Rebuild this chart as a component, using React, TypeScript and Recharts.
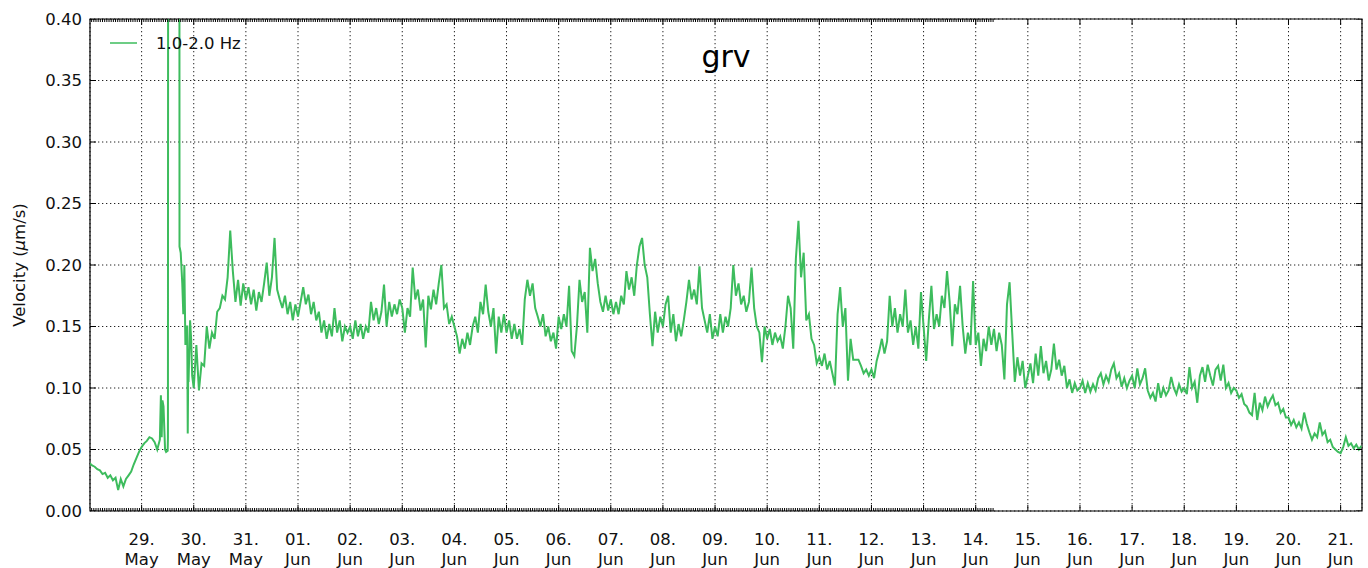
import React from 'react';
import { ComposedChart, Line, Scatter, XAxis, YAxis, CartesianGrid, ReferenceArea } from 'recharts';

// x = days since 28 May 00:00
const xDomain: [number, number] = [0.01, 24.41];
const yDomain: [number, number] = [0, 0.4];
const yTicks = [0, 0.05, 0.1, 0.15, 0.2, 0.25, 0.3, 0.35, 0.4];
const dayTicks = [1, 2, 3, 4, 5, 6, 7, 8, 9, 10, 11, 12, 13, 14, 15, 16, 17, 18, 19, 20, 21, 22, 23, 24];
const dayNumbers = ['29.', '30.', '31.', '01.', '02.', '03.', '04.', '05.', '06.', '07.', '08.', '09.', '10.', '11.', '12.', '13.', '14.', '15.', '16.', '17.', '18.', '19.', '20.', '21.'];
const monthNames = ['May', 'May', 'May', 'Jun', 'Jun', 'Jun', 'Jun', 'Jun', 'Jun', 'Jun', 'Jun', 'Jun', 'Jun', 'Jun', 'Jun', 'Jun', 'Jun', 'Jun', 'Jun', 'Jun', 'Jun', 'Jun', 'Jun', 'Jun'];
const seriesName = '1.0-2.0 Hz';
const stationName = 'grv';
const lineColor = '#3dbc5d';

// velocity samples every 0.05 day, one row per day (starting 28 May)
const sampleStep = 0.05;
const velocityByDay: number[][] = [
  /* 28 May */ [0.039, 0.037, 0.036, 0.034, 0.033, 0.030, 0.031, 0.027, 0.029, 0.025, 0.027, 0.017, 0.026, 0.020, 0.026, 0.029, 0.032, 0.038, 0.043, 0.048],
  /* 29 May */ [0.052, 0.055, 0.057, 0.060, 0.059, 0.056, 0.050, 0.058, 0.090, 0.050, 0.049, 0.9, 0.9, 0.9, 0.9, 0.210, 0.160, 0.150, 0.105, 0.140],
  /* 30 May */ [0.100, 0.135, 0.098, 0.120, 0.118, 0.150, 0.132, 0.145, 0.140, 0.162, 0.165, 0.175, 0.172, 0.190, 0.228, 0.195, 0.170, 0.188, 0.167, 0.185],
  /* 31 May */ [0.172, 0.182, 0.168, 0.180, 0.163, 0.178, 0.170, 0.185, 0.202, 0.175, 0.190, 0.222, 0.180, 0.172, 0.165, 0.175, 0.160, 0.170, 0.155, 0.168],
  /* 01 Jun */ [0.158, 0.170, 0.182, 0.168, 0.176, 0.160, 0.170, 0.155, 0.162, 0.145, 0.155, 0.140, 0.152, 0.142, 0.165, 0.145, 0.155, 0.138, 0.150, 0.145],
  /* 02 Jun */ [0.150, 0.140, 0.155, 0.142, 0.152, 0.140, 0.150, 0.145, 0.170, 0.155, 0.165, 0.152, 0.162, 0.184, 0.150, 0.170, 0.158, 0.168, 0.160, 0.172],
  /* 03 Jun */ [0.165, 0.145, 0.165, 0.158, 0.198, 0.172, 0.180, 0.163, 0.172, 0.133, 0.175, 0.164, 0.180, 0.168, 0.185, 0.200, 0.165, 0.168, 0.152, 0.158],
  /* 04 Jun */ [0.150, 0.142, 0.128, 0.140, 0.132, 0.145, 0.135, 0.150, 0.158, 0.145, 0.170, 0.160, 0.184, 0.162, 0.150, 0.165, 0.128, 0.158, 0.145, 0.160],
  /* 05 Jun */ [0.145, 0.155, 0.140, 0.152, 0.140, 0.148, 0.135, 0.172, 0.188, 0.175, 0.185, 0.165, 0.158, 0.150, 0.160, 0.142, 0.150, 0.138, 0.145, 0.132],
  /* 06 Jun */ [0.158, 0.148, 0.160, 0.150, 0.183, 0.130, 0.126, 0.150, 0.188, 0.170, 0.178, 0.145, 0.214, 0.195, 0.205, 0.185, 0.170, 0.162, 0.175, 0.163],
  /* 07 Jun */ [0.172, 0.160, 0.170, 0.160, 0.175, 0.168, 0.195, 0.180, 0.190, 0.175, 0.200, 0.215, 0.222, 0.200, 0.190, 0.160, 0.134, 0.162, 0.145, 0.158],
  /* 08 Jun */ [0.150, 0.168, 0.175, 0.145, 0.160, 0.138, 0.152, 0.142, 0.155, 0.170, 0.188, 0.172, 0.180, 0.168, 0.199, 0.165, 0.155, 0.145, 0.160, 0.140],
  /* 09 Jun */ [0.150, 0.142, 0.160, 0.145, 0.158, 0.150, 0.165, 0.200, 0.175, 0.185, 0.168, 0.175, 0.162, 0.170, 0.198, 0.165, 0.150, 0.145, 0.121, 0.150],
  /* 10 Jun */ [0.140, 0.148, 0.135, 0.145, 0.138, 0.142, 0.132, 0.150, 0.175, 0.165, 0.132, 0.205, 0.236, 0.190, 0.210, 0.155, 0.160, 0.140, 0.135, 0.120],
  /* 11 Jun */ [0.125, 0.118, 0.128, 0.115, 0.122, 0.112, 0.102, 0.160, 0.182, 0.150, 0.165, 0.106, 0.140, 0.123, 0.123, 0.123, 0.118, 0.112, 0.115, 0.110],
  /* 12 Jun */ [0.115, 0.108, 0.122, 0.130, 0.140, 0.128, 0.138, 0.175, 0.150, 0.165, 0.145, 0.160, 0.150, 0.180, 0.145, 0.155, 0.135, 0.150, 0.132, 0.178],
  /* 13 Jun */ [0.150, 0.122, 0.155, 0.183, 0.148, 0.160, 0.150, 0.175, 0.165, 0.195, 0.170, 0.134, 0.168, 0.160, 0.183, 0.150, 0.128, 0.145, 0.135, 0.187],
  /* 14 Jun */ [0.135, 0.145, 0.118, 0.140, 0.130, 0.150, 0.135, 0.148, 0.130, 0.145, 0.135, 0.107, 0.168, 0.186, 0.145, 0.105, 0.125, 0.110, 0.122, 0.100],
  /* 15 Jun */ [0.110, 0.120, 0.104, 0.128, 0.110, 0.134, 0.112, 0.122, 0.106, 0.115, 0.136, 0.115, 0.123, 0.110, 0.118, 0.100, 0.107, 0.096, 0.104, 0.098],
  /* 16 Jun */ [0.100, 0.106, 0.096, 0.104, 0.097, 0.103, 0.098, 0.108, 0.112, 0.103, 0.110, 0.105, 0.115, 0.120, 0.108, 0.112, 0.101, 0.108, 0.100, 0.106],
  /* 17 Jun */ [0.110, 0.100, 0.116, 0.103, 0.108, 0.116, 0.098, 0.092, 0.096, 0.089, 0.104, 0.092, 0.100, 0.094, 0.098, 0.109, 0.100, 0.095, 0.103, 0.097],
  /* 18 Jun */ [0.100, 0.095, 0.117, 0.100, 0.105, 0.088, 0.110, 0.117, 0.105, 0.119, 0.110, 0.102, 0.115, 0.118, 0.106, 0.119, 0.100, 0.104, 0.096, 0.100],
  /* 19 Jun */ [0.098, 0.092, 0.095, 0.087, 0.085, 0.080, 0.078, 0.096, 0.074, 0.088, 0.082, 0.093, 0.085, 0.090, 0.094, 0.086, 0.088, 0.080, 0.083, 0.076],
  /* 20 Jun */ [0.076, 0.070, 0.074, 0.068, 0.072, 0.067, 0.080, 0.071, 0.064, 0.058, 0.063, 0.060, 0.072, 0.062, 0.065, 0.056, 0.058, 0.052, 0.050, 0.048],
  /* 21 Jun */ [0.047, 0.052, 0.060, 0.053, 0.055, 0.051, 0.054, 0.050, 0.053],
];

// extra samples around the 29 May burst
const burstTimes = [1.37, 1.385, 1.42, 1.47, 1.505, 1.512, 1.722, 1.727, 1.78, 1.82, 1.84, 1.875, 1.885, 1.895, 1.93, 1.97];
const burstValues = [0.094, 0.060, 0.085, 0.048, 0.060, 0.9, 0.9, 0.215, 0.185, 0.200, 0.135, 0.150, 0.063, 0.120, 0.155, 0.110];

type Row = { t: number; v: number };
const rows: Row[] = [];
velocityByDay.forEach((vals, d) => {
  vals.forEach((v, k) => rows.push({ t: Math.round((d + k * sampleStep) * 1000) / 1000, v }));
});
burstTimes.forEach((t, i) => rows.push({ t, v: burstValues[i] }));
rows.sort((a, b) => a.t - b.t);

// tick-mark positions (matplotlib-style inward ticks on all four sides)
const minorTickTimes: number[] = [];
for (let h = 1; h <= 416; h++) minorTickTimes.push(h / 24);
const bottomMinor = minorTickTimes.map((t) => ({ t, y: yDomain[0] }));
const topMinor = minorTickTimes.map((t) => ({ t, y: yDomain[1] }));
const bottomMajor = dayTicks.map((t) => ({ t, y: yDomain[0] }));
const topMajor = dayTicks.map((t) => ({ t, y: yDomain[1] }));
const leftMajor = yTicks.map((y) => ({ t: xDomain[0], y }));
const rightMajor = yTicks.map((y) => ({ t: xDomain[1], y }));

const FONT = 'DejaVu Sans';
const textColor = '#111';

const tickMark = (dx: number, dy: number) => (p: any) => (
  <line x1={p.cx} y1={p.cy} x2={p.cx + dx} y2={p.cy + dy} stroke="#000" strokeWidth={1} />
);

const DayTick = (props: any) => {
  const { x, y, payload } = props;
  const i = dayTicks.indexOf(payload.value);
  return (
    <text x={x} y={y} textAnchor="middle" fontSize={16.5} fontFamily={FONT} fill={textColor}>
      <tspan x={x} y={y + 34}>{dayNumbers[i]}</tspan>
      <tspan x={x} y={y + 54}>{monthNames[i]}</tspan>
    </text>
  );
};

export default function App() {
  return (
    <div style={{ position: 'absolute', left: 0, top: 0, width: 1368, height: 568, background: '#fff' }}>
      <ComposedChart width={1368} height={568} data={rows} margin={{ top: 19, right: 6, bottom: 7, left: 0 }}>
        <CartesianGrid stroke="#222" strokeDasharray="1.3 2.7" strokeWidth={1} />
        <XAxis
          dataKey="t"
          type="number"
          domain={xDomain}
          allowDataOverflow
          ticks={dayTicks}
          interval={0}
          height={50}
          tickSize={0}
          tickMargin={0}
          tickLine={false}
          axisLine={false}
          tick={<DayTick />}
        />
        <YAxis
          type="number"
          domain={yDomain}
          allowDataOverflow
          ticks={yTicks}
          interval={0}
          width={90}
          tickSize={6}
          tickMargin={2}
          tickLine={false}
          axisLine={false}
          tickFormatter={(v: number) => v.toFixed(2)}
          tick={{ fontSize: 16.5, fontFamily: FONT, fill: textColor }}
        />
        <Line
          type="linear"
          dataKey="v"
          name={seriesName}
          stroke={lineColor}
          strokeWidth={2}
          dot={false}
          isAnimationActive={false}
        />
        <Scatter data={bottomMinor} dataKey="y" shape={tickMark(0, -3)} isAnimationActive={false} />
        <Scatter data={topMinor} dataKey="y" shape={tickMark(0, 3)} isAnimationActive={false} />
        <Scatter data={bottomMajor} dataKey="y" shape={tickMark(0, -6)} isAnimationActive={false} />
        <Scatter data={topMajor} dataKey="y" shape={tickMark(0, 6)} isAnimationActive={false} />
        <Scatter data={leftMajor} dataKey="y" shape={tickMark(6, 0)} isAnimationActive={false} />
        <Scatter data={rightMajor} dataKey="y" shape={tickMark(-6, 0)} isAnimationActive={false} />
        <ReferenceArea
          x1={xDomain[0]}
          x2={xDomain[1]}
          y1={yDomain[0]}
          y2={yDomain[1]}
          fill="none"
          stroke="#000"
          strokeWidth={1.2}
          ifOverflow="visible"
        />
      </ComposedChart>
      <svg width={1368} height={568} style={{ position: 'absolute', left: 0, top: 0, pointerEvents: 'none' }}>
        <text x={726} y={67} textAnchor="middle" fontSize={30} fontFamily={FONT} fill="#000">{stationName}</text>
        <line x1={110} y1={43} x2={137} y2={43} stroke={lineColor} strokeWidth={1.5} />
        <text x={156} y={49} fontSize={16.5} fontFamily={FONT} fill={textColor}>{seriesName}</text>
        <text transform="translate(25,265) rotate(-90)" textAnchor="middle" fontSize={16.5} fontFamily={FONT} fill={textColor}>
          Velocity (<tspan fontStyle="italic">μ</tspan>m/s)
        </text>
      </svg>
    </div>
  );
}
